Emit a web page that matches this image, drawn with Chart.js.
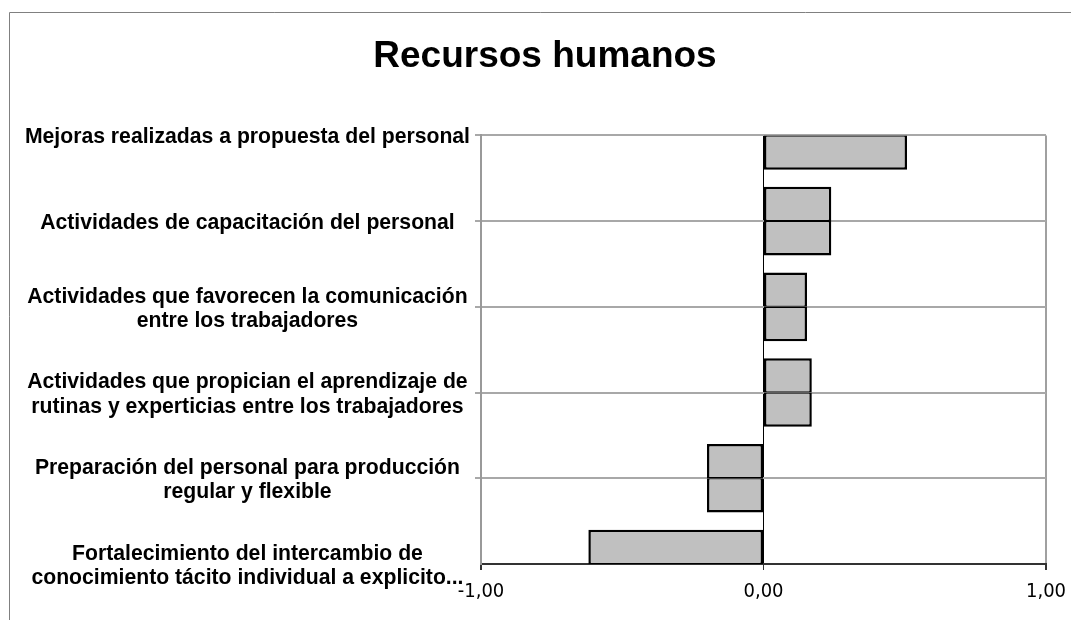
<!DOCTYPE html>
<html><head><meta charset="utf-8">
<script src="https://cdn.jsdelivr.net/npm/chart.js@4.4.1/dist/chart.umd.min.js"></script>
<style>html,body{margin:0;padding:0;background:#fff;overflow:hidden}</style>
</head><body><canvas id="c" width="1071" height="620"></canvas>
<script>
const titleText = 'Recursos humanos';
const categories = [
  ['Mejoras realizadas a propuesta del personal'],
  ['Actividades de capacitación del personal'],
  ['Actividades que favorecen la comunicación', 'entre los trabajadores'],
  ['Actividades que propician el aprendizaje de', 'rutinas y experticias entre los trabajadores'],
  ['Preparación del personal para producción', 'regular y flexible'],
  ['Fortalecimiento del intercambio de', 'conocimiento tácito individual a explicito...']
];
const values = [0.508, 0.24, 0.154, 0.171, -0.20, -0.62];
const xTicks = [-1, 0, 1];

const framePlugin = {
  id: 'frame',
  afterLayout(chart) {
    // let the category labels use the whole left margin (no clipping)
    if (chart.scales.y) chart.scales.y.left = 0;
  },
  beforeDraw(chart) {
    const ctx = chart.ctx;
    ctx.save();
    ctx.fillStyle = '#fff';
    ctx.fillRect(0, 0, chart.width, chart.height);
    ctx.strokeStyle = '#808080';
    ctx.lineWidth = 1;
    ctx.beginPath();
    ctx.moveTo(9.5, chart.height);
    ctx.lineTo(9.5, 12.5);
    ctx.lineTo(chart.width, 12.5);
    ctx.stroke();
    ctx.restore();
  }
};

const barStyle = {
  backgroundColor: '#c0c0c0',
  borderColor: '#000',
  borderSkipped: false,
  categoryPercentage: 0.8,
  barPercentage: 1,
  clip: 0
};

new Chart(document.getElementById('c'), {
  type: 'bar',
  data: {
    labels: categories,
    datasets: [
      Object.assign({ label: titleText, data: values,
        borderWidth: { top: 2.5, bottom: 1.25, left: 2.5, right: 2.5 } }, barStyle),
      Object.assign({ label: titleText, data: values,
        borderWidth: { top: 1.25, bottom: 2.5, left: 2.5, right: 2.5 } }, barStyle)
    ]
  },
  options: {
    indexAxis: 'y',
    responsive: false,
    animation: false,
    layout: { padding: { left: 44, right: 25, top: 0, bottom: 0 } },
    plugins: {
      legend: { display: false },
      tooltip: { enabled: false },
      title: {
        display: true,
        text: titleText,
        color: '#000',
        font: { family: "'Liberation Sans', Arial, sans-serif", size: 37, weight: 'bold', lineHeight: 1.2 },
        padding: { top: 35, bottom: 56 }
      }
    },
    scales: {
      x: {
        type: 'linear',
        min: -1,
        max: 1,
        afterBuildTicks(s) { s.ticks = xTicks.map(v => ({ value: v })); },
        afterFit(s) { s.height = 56; s.paddingLeft = 0; s.paddingRight = 0; },
        grid: {
          color: c => (c.tick && c.tick.value === 0) ? '#000' : '#a0a0a0',
          lineWidth: c => (c.tick && c.tick.value === 0) ? 1 : 2,
          drawTicks: true,
          tickLength: 6,
          tickColor: '#333'
        },
        border: { display: true, color: '#333', width: 2 },
        ticks: {
          color: '#000',
          padding: 10,
          autoSkip: false,
          maxRotation: 0,
          font: { family: "'DejaVu Sans Condensed', 'DejaVu Sans', sans-serif", size: 20 },
          callback: v => Number(v).toFixed(2).replace('.', ',')
        }
      },
      y: {
        type: 'category',
        offset: false,
        afterFit(s) { s.width = 437; s.paddingTop = 0; s.paddingBottom = 0; },
        grid: {
          offset: false,
          color: c => c.index === categories.length - 1 ? 'rgba(0,0,0,0)' : '#a8a8a8',
          lineWidth: 2,
          drawTicks: true,
          tickLength: 6
        },
        border: { display: true, color: '#999', width: 2 },
        ticks: {
          crossAlign: 'center',
          padding: 5,
          labelOffset: 2,
          color: '#000',
          autoSkip: false,
          font: { family: "'Liberation Sans', Arial, sans-serif", size: 21.2, weight: 'bold', lineHeight: 1.15 }
        }
      }
    }
  },
  plugins: [framePlugin]
});
</script>
</body></html>
